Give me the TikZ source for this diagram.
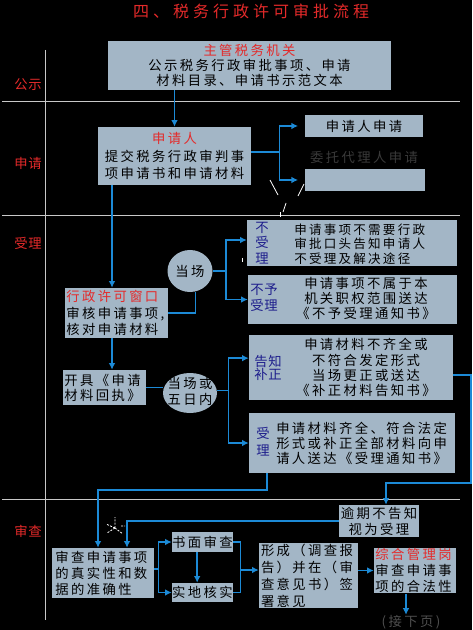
\documentclass[tikz,border=0pt]{standalone}
\usepackage{fontspec}
\usetikzlibrary{arrows.meta,positioning,shapes.geometric}
\newfontfamily\cjk{Noto Sans CJK SC}[LetterSpace=18]
\newfontfamily\cjktight{Noto Sans CJK SC}[LetterSpace=5]
\newfontfamily\cjktitle{Noto Sans CJK SC}[LetterSpace=25]
\definecolor{boxgray}{HTML}{A3B6C6}
\definecolor{flowblue}{HTML}{1C8AD6}
\definecolor{headred}{HTML}{E42A2A}
\definecolor{sidenavy}{HTML}{1E1E8C}
\definecolor{laneline}{HTML}{C8C8C8}
\definecolor{faint}{HTML}{3A3A3A}
\definecolor{nextgray}{HTML}{4E4E4E}
\tikzset{
	box/.style={fill=boxgray, text=black, inner xsep=2pt, inner ysep=0.5pt,
		font=\cjk\fontsize{10pt}{11.5pt}\selectfont},
	oval/.style={ellipse, fill=boxgray, inner sep=0pt},
	ovaltext/.style={inner sep=0pt, align=center, text=black,
		font=\cjk\fontsize{10pt}{12.5pt}\selectfont},
	side/.style={inner sep=0pt, align=center, text=sidenavy},
	boxtext/.style={inner sep=0pt, text=black},
	lane/.style={text=headred, inner sep=0pt, font=\cjktight\fontsize{10pt}{12pt}\selectfont},
	flow/.style={draw=flowblue, line width=1.1pt, -{Latex[length=5pt,width=5pt]}},
	link/.style={draw=flowblue, line width=1.1pt},
	grid/.style={draw=laneline, line width=0.7pt},
	scratch/.style={draw=white, line width=0.6pt},
}
\newcommand{\hl}[1]{\textcolor{headred}{#1}}
\begin{document}
\begin{tikzpicture}[x=0.75pt, y=-0.75pt]
\path[use as bounding box, fill=black] (0,0) rectangle (472,630);

% swimlanes
\draw[grid] (2,101) -- (460,101);
\draw[grid] (2,215) -- (460,215);
\draw[grid] (2,499) -- (460,499);
\draw[grid] (45,50) -- (45,620);
\node[text=headred, font=\cjktitle\fontsize{12pt}{14pt}\selectfont] (title) at (251,11) {四、税务行政许可审批流程};
\node[lane] (gongshi) at (28,85) {公示};
\node[lane] (shenqing) at (28,163) {申请};
\node[lane] (shouli) at (28,243) {受理};
\node[lane] (shencha) at (28,531) {审查};

% public notice / apply
\node[box, text width=208.25pt, align=center, minimum height=36.75pt] (gsjg) at (249.5,65.5)
	{\hl{主管税务机关}\\公示税务行政审批事项、申请\\材料目录、申请书示范文本};
\node[box, text width=110.75pt, align=center, minimum height=43.5pt,
	font=\cjk\fontsize{10pt}{13pt}\selectfont] (sqr) at (174.5,156)
	{\hl{申请人}\\提交税务行政审判事\\项申请书和申请材料};
\node[box, text width=84.5pt, align=center, minimum height=16.5pt] (sqzs) at (364,126) {申请人申请};
\node[text=faint, inner sep=0pt, font=\cjk\fontsize{10pt}{12pt}\selectfont] (wtdl) at (364,157) {委托代理人申请};
\node[box, minimum width=90pt, minimum height=16.5pt] (wtkg) at (365,180) {};

% acceptance
\node[box, inner xsep=1pt, text width=75.25pt, align=left, minimum height=37.5pt,
	font=\cjk\fontsize{10pt}{12.5pt}\selectfont] (xzck) at (116.5,313)
	{\hl{行政许可窗口}\\审核申请事项,\\核对申请材料};
\node[oval, minimum width=33.75pt, minimum height=31.5pt] (dc1) at (190,271) {};
\node[ovaltext] (dc1t) at (dc1) {当场};

\node[box, minimum width=157.5pt, minimum height=34.5pt] (bsl) at (352,243) {};
\node[side, font=\cjktight\fontsize{10pt}{11.6pt}\selectfont] (bsls) at (262,243) {不\\受\\理};
\node[boxtext, anchor=west, align=left, font=\cjk\fontsize{9.4pt}{11pt}\selectfont] (bslt) at (294,244)
	{申请事项不需要行政\\审批口头告知申请人\\不受理及解决途径};

\node[box, minimum width=156.75pt, minimum height=36.75pt] (byl) at (352.5,299.5) {};
\node[side, font=\cjktight\fontsize{10pt}{12pt}\selectfont] (byls) at (264,298) {不予\\受理};
\node[boxtext, align=center, font=\cjk\fontsize{10pt}{11.25pt}\selectfont] (bylt) at (366,298)
	{申请事项不属于本\\机关职权范围送达\\《不予受理通知书》};

\node[box, inner xsep=1pt, text width=60.25pt, align=left, minimum height=26.25pt,
	font=\cjk\fontsize{10pt}{11.25pt}\selectfont] (kjhz) at (104.5,387.5)
	{开具《申请\\材料回执》};
\node[oval, minimum width=40.5pt, minimum height=30pt] (dc2) at (190,393) {};
\node[ovaltext] (dc2t) at (190,391.5) {当场或\\五日内};

\node[box, minimum width=153pt, minimum height=48.75pt] (gzbz) at (351,367.5) {};
\node[side, font=\cjktight\fontsize{10pt}{8.6pt}\selectfont] (gzbzs) at (268,368) {告知\\补正};
\node[boxtext, align=center, font=\cjk\fontsize{10pt}{11.3pt}\selectfont] (gzbzt) at (366,367.5)
	{申请材料不齐全或\\不符合发定形式\\当场更正或送达\\《补正材料告知书》};

\node[box, minimum width=154.5pt, minimum height=45pt] (sl) at (352,443) {};
\node[side, font=\cjktight\fontsize{10pt}{12.75pt}\selectfont] (sls) at (263,441.5) {受\\理};
\node[boxtext, anchor=west, align=left, font=\cjk\fontsize{10pt}{11.25pt}\selectfont] (slt) at (276,443)
	{申请材料齐全、符合法定\\形式或补正全部材料向申\\请人送达《受理通知书》};

% examination
\node[box, inner xsep=0.5pt, text width=59pt, align=center, minimum height=24pt,
	font=\cjk\fontsize{10pt}{12pt}\selectfont] (yqbgz) at (379,521)
	{逾期不告知\\视为受理};
\node[box, inner xsep=2.5pt, text width=71.5pt, align=left, minimum height=37.5pt,
	font=\cjk\fontsize{10pt}{12pt}\selectfont] (scsz) at (103,573)
	{审查申请事项\\的真实性和数\\据的准确性};
\node[box, inner xsep=0pt, text width=45.75pt, align=center, minimum height=15pt] (smsc) at (202.5,542) {书面审查};
\node[box, inner xsep=0pt, text width=45.75pt, align=center, minimum height=14.25pt] (sdhs) at (202.5,592.5) {实地核实};
\node[box, inner xsep=1.5pt, text width=71.25pt, align=left, minimum height=48.75pt,
	font=\cjk\fontsize{10pt}{12.75pt}\selectfont] (xcyj) at (308.5,575.5)
	{形成（调查报\\告）并在（审\\查意见书）签\\署意见};
\node[box, inner xsep=1pt, text width=59.5pt, align=left, minimum height=33.75pt,
	font=\cjk\fontsize{10pt}{12pt}\selectfont] (zhgl) at (415,570.5)
	{\hl{综合管理岗}\\审查申请事\\项的合法性};
\node[text=nextgray, inner sep=0pt, font=\cjk\fontsize{10pt}{12pt}\selectfont] (jxy) at (411,622) {(接下页)};

% helper columns
\coordinate (xa) at (112,0);
\coordinate (xz) at (406,0);
\coordinate (rt) at (471,483);
\coordinate (lb) at (267,490);

% connectors
\draw[flow] (gsjg.south -| sqr.north) -- (sqr.north);
\draw[link] ([yshift=3pt]sqr.east) -- ++(28,0) coordinate (fk1);
\draw[flow, shorten >=5pt] (fk1) |- (sqzs.west);
\draw[flow, shorten >=5pt] (fk1) |- (wtkg.west);
\draw[flow] (sqr.south -| xa) -- (xzck.north -| xa);
\draw[link] (xzck.east) -| (dc1.-75);
\draw[link] (dc1.east) -- ++(13,0) coordinate (fk2);
\draw[flow] (fk2) |- ([yshift=2.25pt]bsl.west);
\draw[flow] (fk2) |- (byl.west);
\draw[flow] (xzck.south -| xa) -- (kjhz.north -| xa);
\draw[link] (kjhz.east) -- (kjhz.east -| dc2.west);
\draw[link] ([yshift=2pt]dc2.east) -- ++(11,0) coordinate (fk3);
\draw[flow] (fk3) |- ([yshift=7pt]gzbz.west);
\draw[flow] (fk3) |- (sl.west);
\draw[flow] ([yshift=-5.5pt]gzbz.east) -| (rt) -| ([xshift=5.25pt]yqbgz.north);
\draw[flow] (sl.south -| lb) -- (lb) -| ([xshift=-3.75pt]scsz.north);
\draw[flow] (yqbgz.west) -| ([xshift=18pt]scsz.north);
\draw[link] ([yshift=3pt]scsz.east) -- ++(4,0) coordinate (fk4);
\draw[flow] (fk4) |- (smsc.west);
\draw[flow] (fk4) |- (sdhs.west);
\draw[flow] ([xshift=-4pt]smsc.south) -- ([xshift=-4pt]sdhs.north);
\draw[link] (smsc.east) -- ++(7,0) coordinate (fk5) |- (sdhs.east);
\draw[flow] (fk5 |- 0,570) -- (xcyj.west |- 0,570);
\draw[flow] (xcyj.east |- zhgl.west) -- (zhgl.west);
\draw[flow] (zhgl.south -| xz) -- (jxy.north -| xz);

% stray marks
\draw[scratch] (270,180) -- (278,195);
\draw[scratch] (304,184) -- (298,196);
\draw[scratch] (286,203) -- (283,212);
\draw[scratch] (280,212) -- (280,217);
\draw[scratch] (242,258) -- (242,262);
\draw[scratch, dash pattern=on 1.5pt off 1pt] (115,528) -- (115,517) (115,528) -- (106,524)
	(115,528) -- (107,533) (115,528) -- (123,534) (121,526) -- (125,526);
\end{tikzpicture}
\end{document}
